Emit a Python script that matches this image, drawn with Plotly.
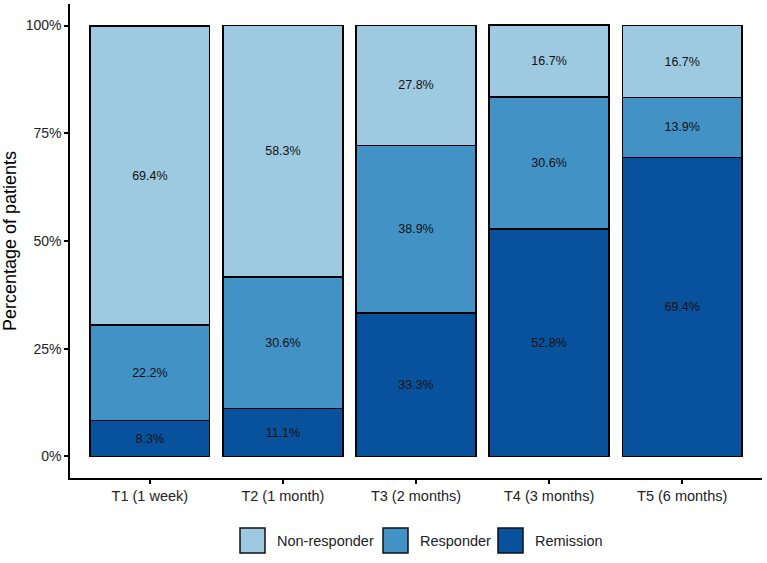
import plotly.graph_objects as go

categories = ["T1 (1 week)", "T2 (1 month)", "T3 (2 months)", "T4 (3 months)", "T5 (6 months)"]
non_responder = [69.4, 58.3, 27.8, 16.7, 16.7]
responder = [22.2, 30.6, 38.9, 30.6, 13.9]
remission = [8.3, 11.1, 33.3, 52.8, 69.4]
y_ticks = [0, 25, 50, 75, 100]
y_tick_labels = ["0%", "25%", "50%", "75%", "100%"]

series = [
    ("Remission", remission, "#08519c"),
    ("Responder", responder, "#4292c6"),
    ("Non-responder", non_responder, "#9ecae1"),
]

FONT = "Liberation Sans, Arial, sans-serif"

fig = go.Figure()
for name, vals, col in series:
    fig.add_trace(go.Bar(
        x=categories, y=vals, name=name, showlegend=False,
        marker=dict(color=col, line=dict(color="black", width=1.5)),
        texttemplate="%{y:.1f}%", textposition="inside", insidetextanchor="middle",
        textangle=0,
        textfont=dict(color="#111111", size=12.5, family=FONT),
        width=0.9,
    ))

# Legend drawn with large keys (ggplot style), in paper coordinates
L, R, T, B = 70, 5, 4, 85
W, H = 767, 563
pw, ph = W - L - R, H - T - B
def px(x):
    return (x - L) / pw
def py(y):
    return (H - B - y) / ph

legend_items = [("Non-responder", "#9ecae1", 240), ("Responder", "#4292c6", 383), ("Remission", "#08519c", 498)]
key = 25
ky = 528
for name, col, kx in legend_items:
    fig.add_shape(type="rect", xref="paper", yref="paper",
                  x0=px(kx), x1=px(kx + key), y0=py(ky + key), y1=py(ky),
                  fillcolor=col, line=dict(color="#111111", width=1.5))
    fig.add_annotation(xref="paper", yref="paper", x=px(kx + key + 10), y=py(ky + key / 2),
                       text=name, showarrow=False, xanchor="left", yanchor="middle",
                       font=dict(size=14.5, color="#222222", family=FONT))

fig.update_layout(
    barmode="stack",
    width=W, height=H,
    margin=dict(l=L, r=R, t=T, b=B),
    paper_bgcolor="white", plot_bgcolor="white",
    font=dict(family=FONT, color="black"),
    showlegend=False,
    xaxis=dict(range=[-0.6, 4.6], showline=True, linecolor="black", linewidth=1.5,
               ticks="outside", ticklen=4, tickcolor="black", tickwidth=1.5,
               tickfont=dict(size=14.5, color="#222222"), showgrid=False, zeroline=False),
    yaxis=dict(range=[-5, 105], showline=True, linecolor="black", linewidth=1.5,
               ticks="outside", ticklen=4, tickcolor="black", tickwidth=1.5,
               tickvals=y_ticks, ticktext=y_tick_labels,
               tickfont=dict(size=14, color="#222222"), showgrid=False, zeroline=False,
               title=dict(text="Percentage of patients", font=dict(size=18, color="black"), standoff=8)),
)

fig.write_html("out.html")
